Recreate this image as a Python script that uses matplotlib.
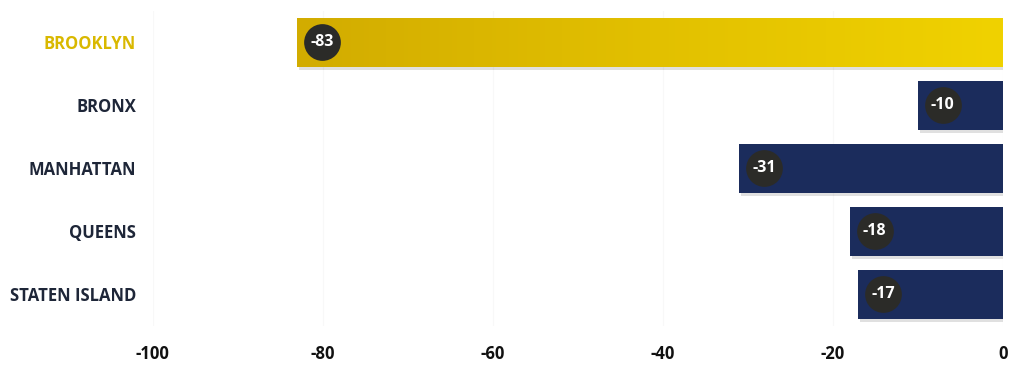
import numpy as np
import matplotlib
matplotlib.use("Agg")
import matplotlib.pyplot as plt
import matplotlib.colors as mcolors

# Change by borough
boroughs = ["BROOKLYN", "BRONX", "MANHATTAN", "QUEENS", "STATEN ISLAND"]
changes = [-83, -10, -31, -18, -17]
highlight = "BROOKLYN"

GOLD = "#d9b800"
NAVY = "#1b2c5c"
LABEL_DARK = "#1e2638"
BADGE = "#2b2b28"

plt.rcParams["font.family"] = ["Open Sans", "DejaVu Sans"]

fig = plt.figure(figsize=(10.11, 3.66), dpi=100)
ax = fig.add_axes([0.151, 0.11, 0.841, 0.86])

y = np.arange(len(boroughs))
height = 0.77

for yi, name, val in zip(y, boroughs, changes):
    # soft drop shadow
    ax.barh(yi + 0.06, val, height=height, left=0.25, color="#000000",
            alpha=0.12, zorder=1)
    if name == highlight:
        bar = ax.barh(yi, val, height=height, color=GOLD, zorder=2)[0]
        grad = np.linspace(0, 1, 256).reshape(1, -1)
        cmap = mcolors.LinearSegmentedColormap.from_list(
            "gold", ["#d2ac00", "#e2c000", "#f0d200"])
        im = ax.imshow(grad, cmap=cmap, aspect="auto", zorder=2.5,
                       extent=[val, 0, yi + height / 2, yi - height / 2])
        im.set_clip_path(bar)
    else:
        ax.barh(yi, val, height=height, color=NAVY, zorder=2)
    # value badge near the bar end
    ax.scatter(val + 2.9, yi, s=700, color=BADGE, zorder=3, linewidths=0)
    ax.text(val + 2.9, yi, f"{val}", color="white", fontsize=11.5,
            fontweight="bold", ha="center", va="center", zorder=4)

ax.set_xlim(-100, 0)
ax.set_ylim(len(boroughs) - 0.5, -0.5)
ax.set_yticks(y)
ax.set_yticklabels(boroughs, fontsize=12, fontweight="bold")
for lbl, name in zip(ax.get_yticklabels(), boroughs):
    lbl.set_color(GOLD if name == highlight else LABEL_DARK)
ax.set_xticks(np.arange(-100, 1, 20))
ax.set_xticklabels([str(v) for v in range(-100, 1, 20)], fontsize=12,
                   fontweight="bold", color="#111111")
ax.tick_params(axis="both", length=0)
ax.tick_params(axis="x", pad=14)
ax.tick_params(axis="y", pad=12)
for s in ax.spines.values():
    s.set_visible(False)
ax.xaxis.grid(True, color="#f8f8f8", linewidth=0.8, zorder=0)
ax.set_axisbelow(True)

fig.savefig("out.png", dpi=100, facecolor="white")
